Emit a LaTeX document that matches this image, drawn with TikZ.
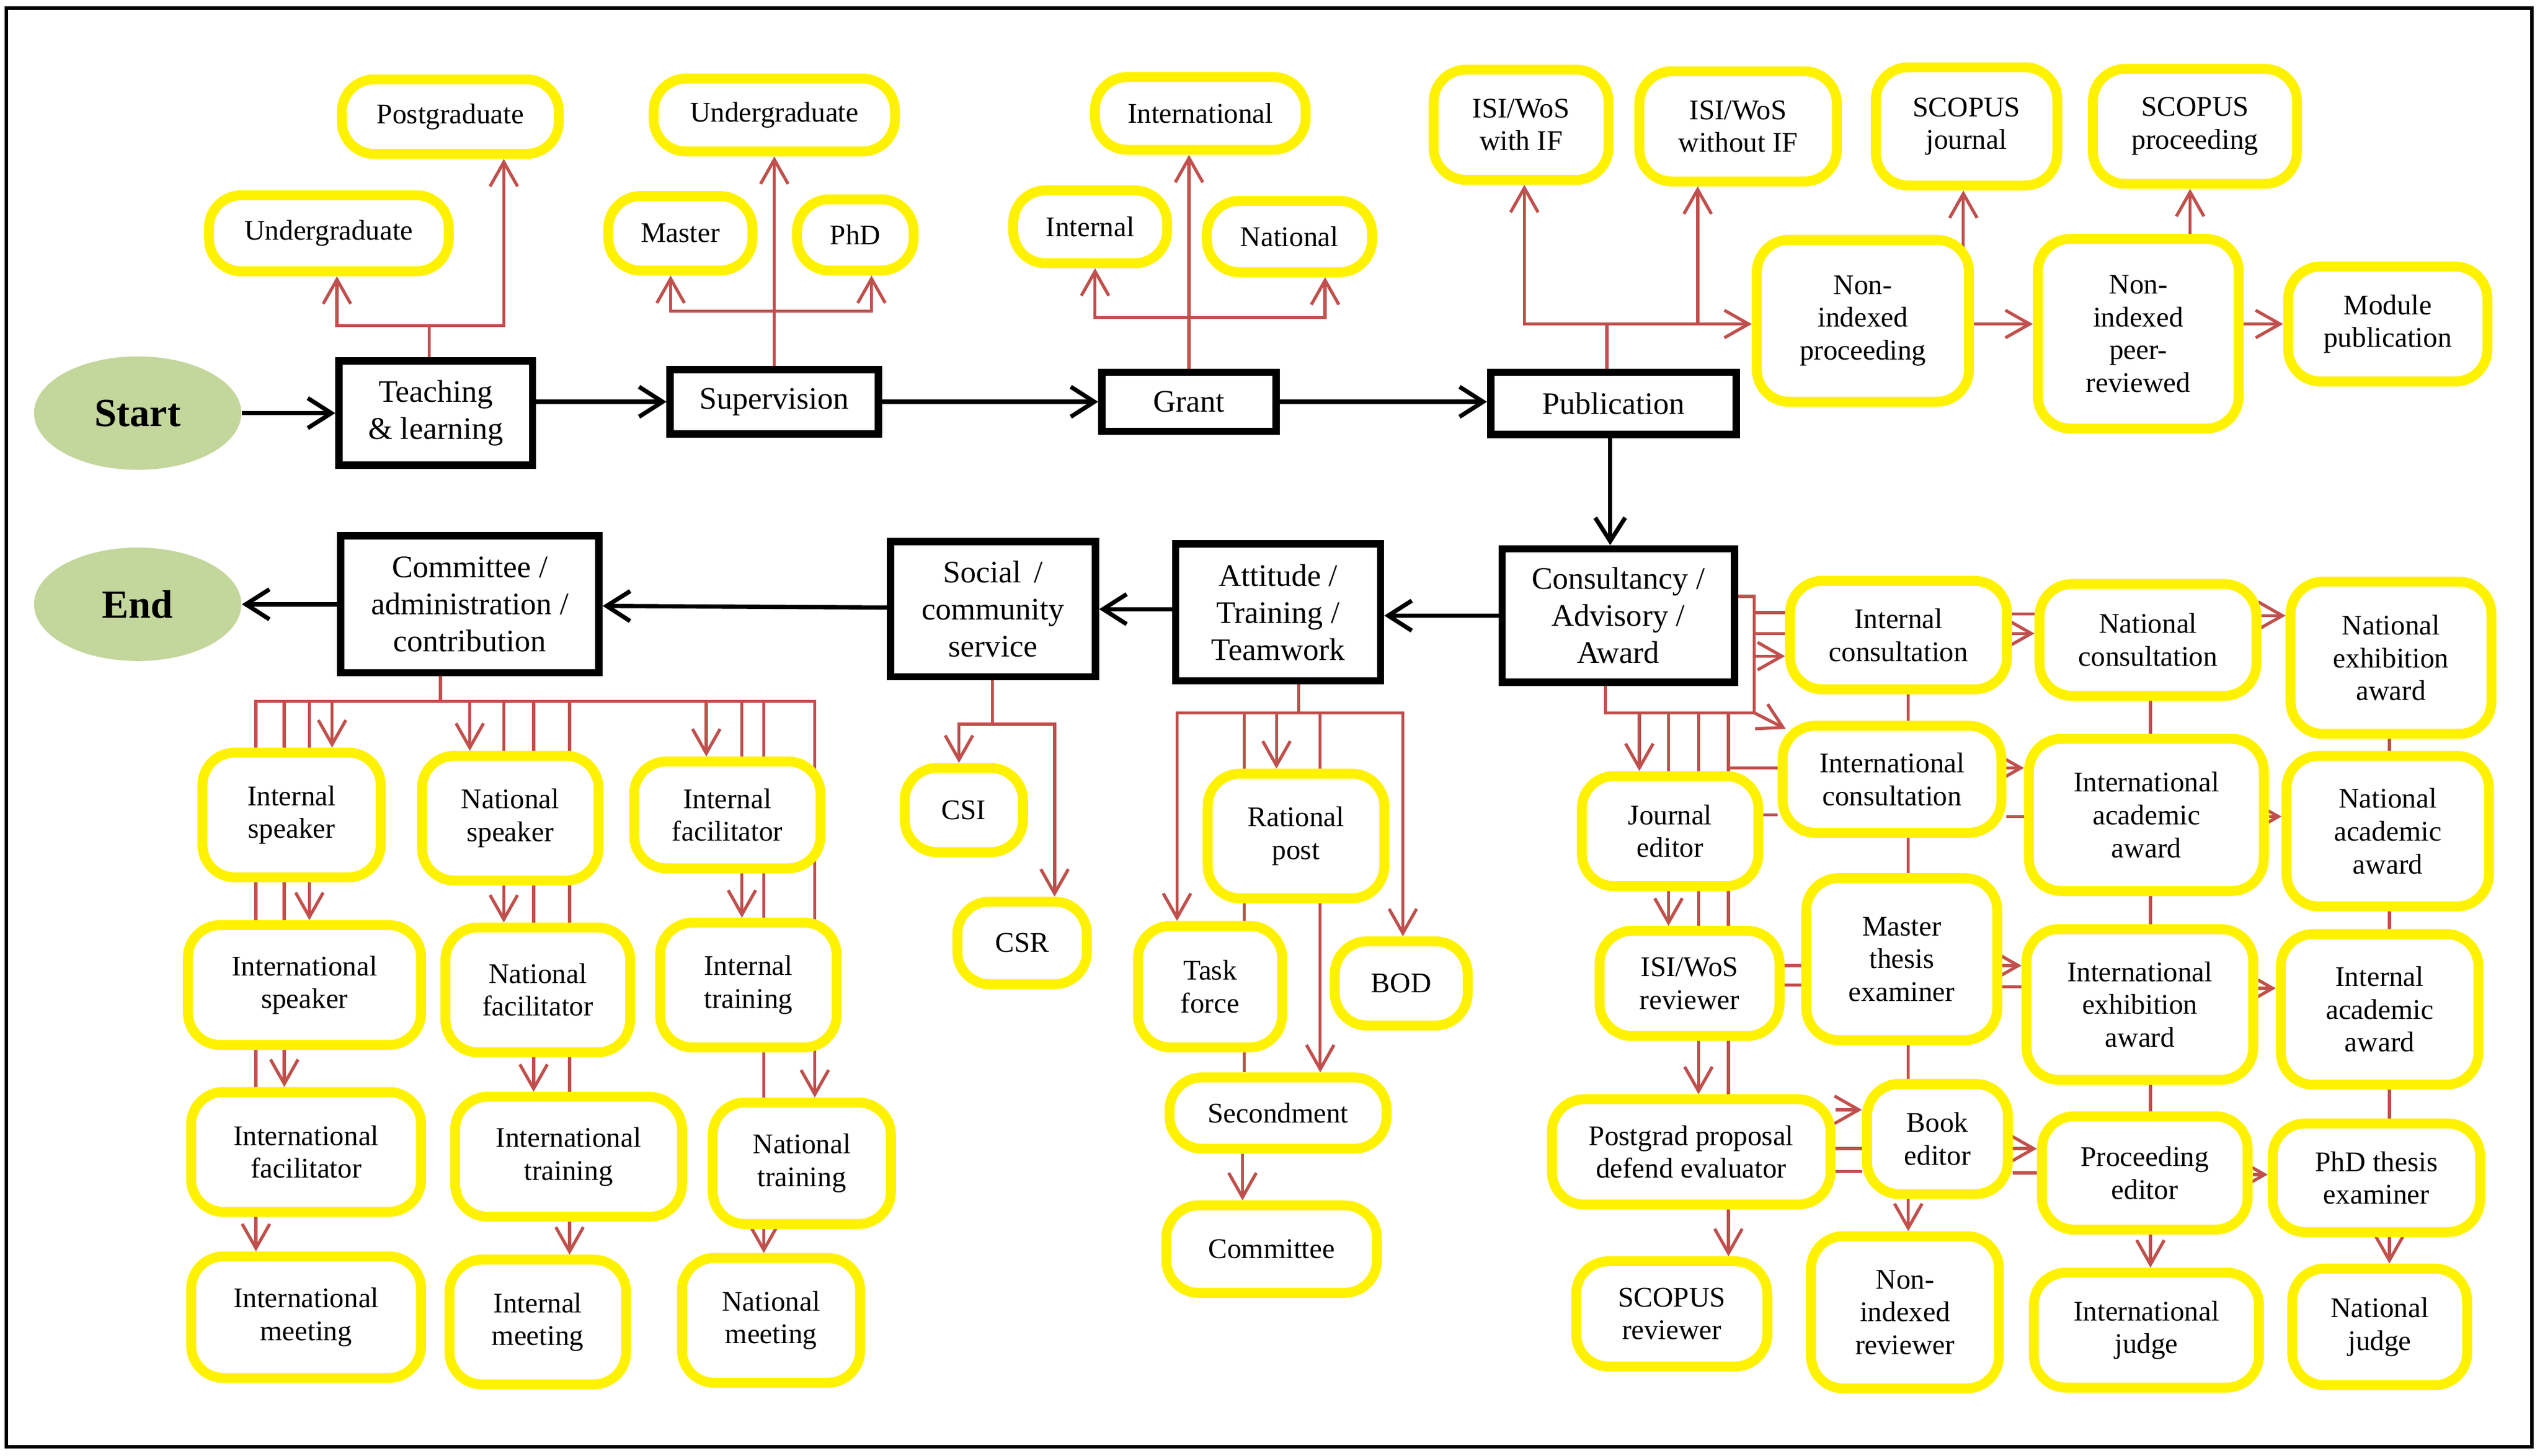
\documentclass[tikz,border=0pt]{standalone}
\usepackage{fontspec}
\setmainfont{Liberation Serif}
\usepackage{tikz}
\usetikzlibrary{arrows.meta,positioning,shapes.geometric,backgrounds}
\definecolor{linkred}{RGB}{192,80,77}
\definecolor{termgreen}{RGB}{195,214,155}
\begin{document}
\begin{tikzpicture}[x=0.2mm,y=-0.2mm,
    ybox/.style={draw=yellow,fill=white,line width=3.5pt,rounded corners=4mm,align=center,
        inner sep=1pt,font=\fontsize{10}{11.5}\selectfont},
    bbox/.style={draw=black,fill=white,line width=2.6pt,align=center,
        inner sep=1pt,font=\fontsize{11}{13}\selectfont},
    term/.style={ellipse,fill=termgreen,minimum width=25.6mm,minimum height=14mm,
        font=\fontsize{14}{16}\selectfont\bfseries},
    wh/.style 2 args={minimum width=#1mm,minimum height=#2mm},
    bl/.style={draw=black,line width=1.5pt,-{Straight Barb[length=2.9mm,width=3.7mm]}},
    rl/.style={draw=linkred,line width=1.1pt},
    ra/.style={rl,-{Straight Barb[length=3mm,width=3.4mm]}}]

    \useasboundingbox (0,0) rectangle (1568,898.7);
    \draw[line width=1.2pt] (4,5) rectangle (1563,893);

    % main chain
    \node[term] (st) at (85,255) {Start};
    \node[term] (en) at (85,373) {End};
    \node[bbox,wh={23.9}{12.9}] (tl) at (269,255) {Teaching\\\& learning};
    \node[bbox,wh={25.7}{7.9}] (sup) at (478,248) {Supervision};
    \node[bbox,wh={21.5}{7.3}] (gr) at (734,248) {Grant};
    \node[bbox,wh={30.3}{7.7}] (pub) at (996,249) {Publication};
    \node[bbox,wh={28.7}{16.5}] (cons) at (999,380) {Consultancy /\\Advisory /\\Award};
    \node[bbox,wh={25.3}{16.9}] (att) at (789,378) {Attitude /\\Training /\\Teamwork};
    \node[bbox,wh={25.3}{16.7}] (soc) at (613,376) {Social \,/\\community\\service};
    \node[bbox,wh={31.9}{16.9}] (cmt) at (290,373) {Committee /\\administration /\\contribution};

    % teaching, supervision, grant
    \node[ybox,wh={29.6}{9.4}] (tl_ug) at (203,144) {Undergraduate};
    \node[ybox,wh={26.8}{9.2}] (tl_pg) at (278,72) {Postgraduate};
    \node[ybox,wh={29.8}{9.0}] (su_ug) at (478,71) {Undergraduate};
    \node[ybox,wh={17.8}{9.2}] (su_ma) at (420,144) {Master};
    \node[ybox,wh={14.4}{8.8}] (su_phd) at (528,145) {PhD};
    \node[ybox,wh={26.0}{9.0}] (gr_int) at (741,70) {International};
    \node[ybox,wh={19.0}{9.0}] (gr_in) at (673,140) {Internal};
    \node[ybox,wh={20.4}{8.8}] (gr_nat) at (796,146) {National};

    % publication
    \node[ybox,wh={21.6}{13.6}] (pu_if) at (939,77) {ISI/WoS\\with IF};
    \node[ybox,wh={24.4}{13.6}] (pu_nif) at (1073,78) {ISI/WoS\\without IF};
    \node[ybox,wh={22.4}{14.6}] (pu_sj) at (1214,78) {SCOPUS\\journal};
    \node[ybox,wh={25.2}{14.2}] (pu_sp) at (1355,78) {SCOPUS\\proceeding};
    \node[ybox,wh={26.2}{20.0}] (pu_nip) at (1150,198) {Non-\\indexed\\proceeding};
    \node[ybox,wh={24.8}{23.4}] (pu_nipr) at (1320,206) {Non-\\indexed\\peer-\\reviewed};
    \node[ybox,wh={24.6}{14.2}] (pu_mod) at (1474,200) {Module\\publication};

    % consultancy
    \node[ybox,wh={26.8}{13.4}] (co_inc) at (1172,392) {Internal\\consultation};
    \node[ybox,wh={26.8}{13.8}] (co_nac) at (1326,395) {National\\consultation};
    \node[ybox,wh={24.8}{18.8}] (co_nea) at (1476,406) {National\\exhibition\\award};
    \node[ybox,wh={27.0}{13.2}] (co_itc) at (1168,481) {International\\consultation};
    \node[ybox,wh={29.0}{18.8}] (co_iaa) at (1325,503) {International\\academic\\award};
    \node[ybox,wh={25.0}{18.6}] (co_naa) at (1474,513) {National\\academic\\award};
    \node[ybox,wh={21.8}{13.6}] (co_je) at (1031,513) {Journal\\editor};
    \node[ybox,wh={22.2}{13.0}] (co_isr) at (1043,607) {ISI/WoS\\reviewer};
    \node[ybox,wh={23.6}{20.0}] (co_mte) at (1174,592) {Master\\thesis\\examiner};
    \node[ybox,wh={28.0}{18.6}] (co_iea) at (1321,620) {International\\exhibition\\award};
    \node[ybox,wh={24.4}{18.6}] (co_iaw) at (1469,623) {Internal\\academic\\award};
    \node[ybox,wh={34.4}{13.0}] (co_ppe) at (1044,711) {Postgrad proposal\\defend evaluator};
    \node[ybox,wh={17.4}{13.6}] (co_be) at (1196,703) {Book\\editor};
    \node[ybox,wh={25.4}{14.0}] (co_pe) at (1324,724) {Proceeding\\editor};
    \node[ybox,wh={25.6}{13.4}] (co_phd) at (1467,727) {PhD thesis\\examiner};
    \node[ybox,wh={23.6}{13.0}] (co_sr) at (1032,811) {SCOPUS\\reviewer};
    \node[ybox,wh={23.2}{18.8}] (co_nir) at (1176,810) {Non-\\indexed\\reviewer};
    \node[ybox,wh={27.8}{14.2}] (co_ij) at (1325,821) {International\\judge};
    \node[ybox,wh={21.6}{14.4}] (co_nj) at (1469,819) {National\\judge};

    % attitude, social
    \node[ybox,wh={21.8}{15.4}] (at_rp) at (800,516) {Rational\\post};
    \node[ybox,wh={17.8}{15.0}] (at_tf) at (747,609) {Task\\force};
    \node[ybox,wh={16.4}{10.4}] (at_bod) at (865,607) {BOD};
    \node[ybox,wh={26.8}{8.8}] (at_sec) at (789,687) {Secondment};
    \node[ybox,wh={26.0}{10.8}] (at_com) at (785,771) {Committee};
    \node[ybox,wh={14.6}{10.4}] (so_csi) at (595,500) {CSI};
    \node[ybox,wh={16.0}{10.2}] (so_csr) at (631,582) {CSR};

    % committee
    \node[ybox,wh={22.0}{15.4}] (cm_insp) at (180,503) {Internal\\speaker};
    \node[ybox,wh={21.8}{15.4}] (cm_nasp) at (315,505) {National\\speaker};
    \node[ybox,wh={23.0}{13.2}] (cm_infa) at (449,503) {Internal\\facilitator};
    \node[ybox,wh={28.8}{14.8}] (cm_itsp) at (188,608) {International\\speaker};
    \node[ybox,wh={22.8}{15.4}] (cm_nafa) at (332,611) {National\\facilitator};
    \node[ybox,wh={21.8}{15.4}] (cm_intr) at (462,608) {Internal\\training};
    \node[ybox,wh={28.4}{14.8}] (cm_itfa) at (189,711) {International\\facilitator};
    \node[ybox,wh={28.0}{14.8}] (cm_ittr) at (351,714) {International\\training};
    \node[ybox,wh={22.0}{15.0}] (cm_natr) at (495,718) {National\\training};
    \node[ybox,wh={28.4}{15.0}] (cm_itme) at (189,813) {International\\meeting};
    \node[ybox,wh={21.8}{15.4}] (cm_inme) at (332,816) {Internal\\meeting};
    \node[ybox,wh={22.0}{15.4}] (cm_name) at (476,815) {National\\meeting};

    \coordinate (tl_j) at (265,201);
    \coordinate (su_j) at (478,192);
    \coordinate (gr_j) at (734,196);
    \coordinate (pu_j) at (992,200);
    \coordinate (cm_j) at (272,433);
    \coordinate (so_j) at (612.6,447);
    \coordinate (at_j) at (801.7,440);
    \coordinate (co_j) at (991,440);
    \coordinate (co_k) at (1083,440);

    \path[bl] (st) edge (tl) (sup) edge (gr) (cmt) edge (en);
    \draw[bl] (tl.east |- sup) -- (sup.west);
    \draw[bl] (gr) -- (gr -| pub.west);
    \draw[bl] (pub.south -| 994,0) -- (cons.north -| 994,0);
    \draw[bl] (cons.west |- 0,380) -- (att.east |- 0,380);
    \draw[bl] (att.west |- 0,376) -- (soc.east |- 0,376);
    \draw[bl] (soc.west |- 0,375) -- (cmt.east |- 0,374);

    \begin{pgfonlayer}{background}
    % teaching, supervision, grant
    \draw[rl] (tl.north -| tl_j) -- (tl_j);
    \draw[ra] (tl_j) -| (tl_ug.south -| 208,0);
    \draw[ra] (tl_j) -| (tl_pg.south -| 311,0);
    \draw[ra] (sup.north) -- (su_ug.south);
    \draw[ra] (su_j) -| (su_ma.south -| 414,0);
    \draw[ra] (su_j) -| (su_phd.south -| 538,0);
    \draw[ra] (gr.north) -- (gr.north |- gr_int.south);
    \draw[ra] (gr_j) -| (gr_in.south -| 676,0);
    \draw[ra] (gr_j) -| (gr_nat.south -| 818,0);

    % publication
    \draw[rl] (pub.north -| pu_j) -- (pu_j);
    \draw[ra] (pu_j) -| (pu_if.south -| 941,0);
    \draw[ra] (pu_j) -| (pu_nif.south -| 1048,0);
    \draw[ra] (pu_j) -- (pu_j -| pu_nip.west);
    \draw[ra] (pu_nip.east |- pu_j) -- (pu_nipr.west |- pu_j);
    \draw[ra] (pu_nipr.east |- pu_j) -- (pu_mod.west |- pu_j);
    \draw[ra] (pu_nip.center -| 1212,0) -- (pu_sj.south -| 1212,0);
    \draw[ra] (pu_nipr.center -| 1352,0) -- (pu_sp.south -| 1352,0);

    % committee
    \draw[rl] (cmt.south -| cm_j) -- (cm_j);
    \draw[ra] (cm_j) -| (cm_itme.north -| 158,0);
    \draw[ra] (cm_j) -| (cm_itfa.north -| 175.5,0);
    \draw[ra] (cm_j) -| (cm_itsp.north -| 191,0);
    \draw[ra] (cm_j) -| (cm_insp.north -| 205,0);
    \draw[ra] (cm_j) -| (cm_nasp.north -| 290,0);
    \draw[ra] (cm_j) -| (cm_nafa.north -| 311,0);
    \draw[ra] (cm_j) -| (cm_ittr.north -| 329.4,0);
    \draw[ra] (cm_j) -| (cm_inme.north -| 351.6,0);
    \draw[ra] (cm_j) -| (cm_infa.north -| 436,0);
    \draw[ra] (cm_j) -| (cm_intr.north -| 458,0);
    \draw[ra] (cm_j) -| (cm_name.north -| 471.5,0);
    \draw[ra] (cm_j) -| (cm_natr.north -| 503,0);

    % social, attitude
    \draw[rl] (soc.south -| so_j) -- (so_j);
    \draw[ra] (so_j) -| (so_csi.north -| 592,0);
    \draw[ra] (so_j) -| (so_csr.north -| 651,0);
    \draw[rl] (att.south -| at_j) -- (at_j);
    \draw[ra] (at_j) -| (at_tf.north -| 726.6,0);
    \draw[rl] (at_j) -| (at_sec.north -| 768,0);
    \draw[ra] (at_j) -| (at_rp.north -| 788,0);
    \draw[ra] (at_j) -| (at_sec.north -| 815,0);
    \draw[ra] (at_j) -| (at_bod.north -| 866,0);
    \draw[ra] (at_sec.south -| 767,0) -- (at_com.north -| 767,0);

    % consultancy
    \draw[rl] (cons.south -| co_j) -- (co_j) -- (co_k);
    \draw[rl] (cons.east |- 0,368) -| (co_k);
    \draw[rl] (co_k |- 0,378) -- (co_inc.west |- 0,378);
    \draw[rl] (co_k |- 0,391) -- (co_inc.west |- 0,391);
    \draw[ra] (co_k |- 0,405) -- (co_inc.west |- 0,405);
    \draw[ra] (co_k) -- ([xshift=1mm,yshift=-1mm]co_itc.north west);
    \draw[ra] (co_j) -| (co_je.north -| 1012,0);
    \draw[ra] (co_j) -| (co_isr.north -| 1030,0);
    \draw[ra] (co_j) -| (co_ppe.north -| 1048.5,0);
    \draw[ra] (co_j) -| (co_sr.north -| 1067,0);
    \draw[rl] (co_j -| 1067,0) |- (co_itc.west |- 0,474);
    \draw[rl] (co_je.east |- 0,503) -- (co_itc.west |- 0,503);
    \draw[ra] (co_inc.center -| 1178,0) -- (co_nir.north -| 1178,0);
    \draw[ra] (co_nac.center -| 1327.5,0) -- (co_ij.north -| 1327.5,0);
    \draw[ra] (co_nea.center -| 1475,0) -- (co_nj.north -| 1475,0);
    \draw[rl] (co_inc.east |- 0,379) -- (co_nac.west |- 0,379);
    \draw[ra] (co_inc.east |- 0,391) -- (co_nac.west |- 0,391);
    \draw[ra] (co_nac.east |- 0,380) -- (co_nea.west |- 0,380);
    \draw[ra] (co_itc.east |- 0,474) -- (co_iaa.west |- 0,474);
    \draw[rl] (co_itc.east |- 0,504) -- (co_iaa.west |- 0,504);
    \draw[ra] (co_iaa.east |- 0,504) -- (co_naa.west |- 0,504);
    \draw[rl] (co_isr.east |- 0,596) -- (co_mte.west |- 0,596);
    \draw[rl] (co_isr.east |- 0,608) -- (co_mte.west |- 0,608);
    \draw[ra] (co_mte.east |- 0,596) -- (co_iea.west |- 0,596);
    \draw[rl] (co_mte.east |- 0,609) -- (co_iea.west |- 0,609);
    \draw[ra] (co_iea.east |- 0,610) -- (co_iaw.west |- 0,610);
    \draw[ra] (co_ppe.east |- 0,685) -- (co_be.west |- 0,685);
    \draw[rl] (co_ppe.east |- 0,709) -- (co_be.west |- 0,709);
    \draw[rl] (co_ppe.east |- 0,723) -- (co_be.west |- 0,723);
    \draw[ra] (co_be.east |- 0,709) -- (co_pe.west |- 0,709);
    \draw[rl] (co_be.east |- 0,724) -- (co_pe.west |- 0,724);
    \draw[ra] (co_pe.east |- 0,725) -- (co_phd.west |- 0,725);
    \end{pgfonlayer}

\end{tikzpicture}
\end{document}
